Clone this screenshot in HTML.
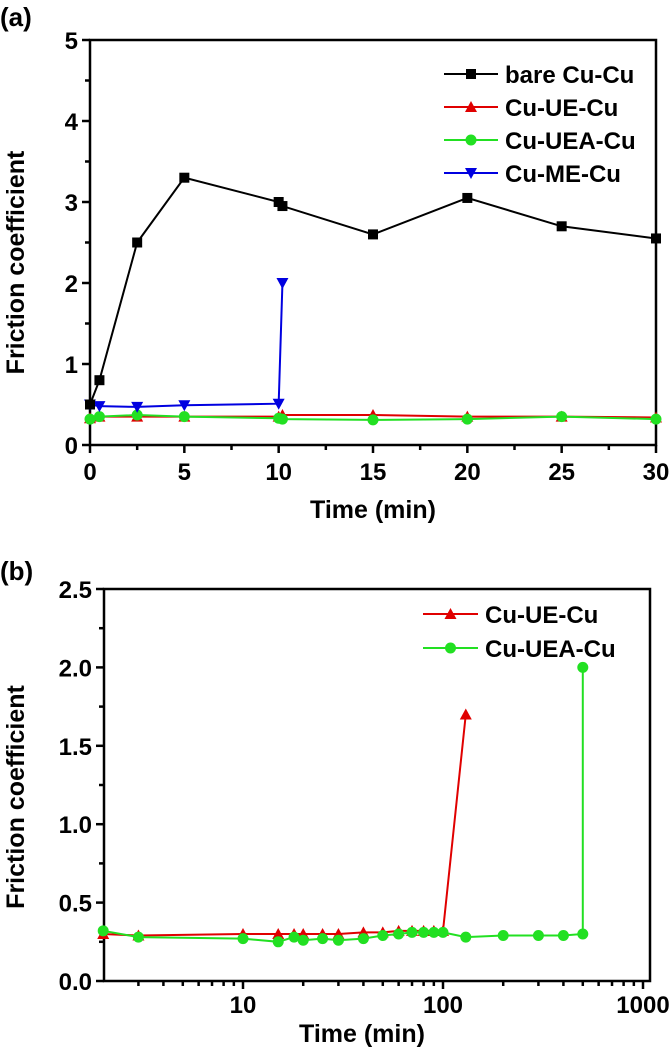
<!DOCTYPE html>
<html><head><meta charset="utf-8"><style>
body{margin:0;background:#fff;}
svg{display:block;font-family:"Liberation Sans",Arial,sans-serif;font-weight:bold;}
</style></head><body>
<svg id="fig" width="670" height="1048" viewBox="0 0 670 1048">
<text x="0" y="26" font-size="26">(a)</text>
<text x="0" y="580" font-size="26">(b)</text>
<g id="ga"></g>
<g id="gb"></g>
</svg>
<script>
// Panel (a) data
const aBareX=[0,0.5,2.5,5,10,10.2,15,20,25,30];
const aBareY=[0.5,0.8,2.5,3.3,3.0,2.95,2.6,3.05,2.7,2.55];
const aUEX=[0,0.5,2.5,5,10,10.2,15,20,25,30];
const aUEY=[0.33,0.35,0.35,0.35,0.35,0.37,0.37,0.35,0.35,0.34];
const aUEAX=[0,0.5,2.5,5,10,10.2,15,20,25,30];
const aUEAY=[0.32,0.35,0.37,0.35,0.33,0.32,0.31,0.32,0.35,0.32];
const aMEX=[0,0.5,2.5,5,10,10.2];
const aMEY=[0.5,0.48,0.47,0.49,0.51,2.0];
const aXTicks=[0,5,10,15,20,25,30];
const aYTicks=[0,1,2,3,4,5];
// Panel (b) data
const bUEX=[2,3,10,15,18,20,25,30,40,50,60,70,80,90,100,130];
const bUEY=[0.3,0.29,0.3,0.3,0.3,0.3,0.3,0.3,0.31,0.31,0.32,0.32,0.32,0.32,0.32,1.7];
const bUEAX=[2,3,10,15,18,20,25,30,40,50,60,70,80,90,100,130,200,300,400,500,500];
const bUEAY=[0.32,0.28,0.27,0.25,0.28,0.26,0.27,0.26,0.27,0.29,0.3,0.31,0.31,0.31,0.31,0.28,0.29,0.29,0.29,0.3,2.0];
const bXTicks=[10,100,1000];
const bYTicks=[0,0.5,1.0,1.5,2.0,2.5];

const NS="http://www.w3.org/2000/svg";
function mk(p,t,a){const e=document.createElementNS(NS,t);for(const k in a)e.setAttribute(k,a[k]);p.appendChild(e);return e;}

function marker(g,type,x,y,c){
  let e;
  if(type==='sq'){e=mk(g,'rect',{x:x-5,y:y-5,width:10,height:10,fill:c});}
  else if(type==='tri'){e=mk(g,'polygon',{points:`${x},${y-6} ${x-6},${y+5} ${x+6},${y+5}`,fill:c});}
  else if(type==='dtri'){e=mk(g,'polygon',{points:`${x},${y+6} ${x-6},${y-5} ${x+6},${y-5}`,fill:c});}
  else {e=mk(g,'circle',{cx:x,cy:y,r:5.5,fill:c});}
  
  
}
function series(g,xs,ys,sx,sy,c,type,name){
  const s=mk(g,'g',{});
  
  
  const pts=xs.map((x,i)=>sx(x)+','+sy(ys[i])).join(' ');
  const l=mk(s,'polyline',{points:pts,fill:'none',stroke:c,'stroke-width':2});
  
  
  xs.forEach((x,i)=>marker(s,type,sx(x),sy(ys[i]),c));
}
function legend(g,x0,x1,y,c,type,label,name){
  const lg=mk(g,'g',{});
  
  
  mk(lg,'line',{x1:x0,x2:x1,y1:y,y2:y,stroke:c,'stroke-width':2});
  marker(lg,type,(x0+x1)/2,y,c);
  const t=mk(lg,'text',{x:x1+7,y:y+9,'font-size':24});t.textContent=label;
}

// ---- Panel a
(function(){
  const g=document.getElementById('ga');
  const L=90,R=656,T=40,B=445;
  const sx=v=>L+(v-0)/30*(R-L), sy=v=>B-(v/5)*(B-T);
  const ax=mk(g,'g',{});
  
  
  for(let v=0;v<=30;v+=2.5){const x=sx(v);mk(ax,'line',{x1:x,x2:x,y1:B,y2:B+(v%5===0?8:5),stroke:'#000','stroke-width':2.5});}
  for(let v=0;v<=5;v+=0.5){const y=sy(v);mk(ax,'line',{x1:L,x2:L-(v%1===0?8:5),y1:y,y2:y,stroke:'#000','stroke-width':2.5});}
  aXTicks.forEach(v=>{const t=mk(ax,'text',{x:sx(v),y:B+35,'font-size':24,'text-anchor':'middle'});t.textContent=v;
    });
  aYTicks.forEach(v=>{const t=mk(ax,'text',{x:L-12,y:sy(v)+9,'font-size':24,'text-anchor':'end'});t.textContent=v;
    });
  const xt=mk(ax,'text',{x:373,y:518,'font-size':25,'text-anchor':'middle'});xt.textContent='Time (min)';
  
  const yt=mk(ax,'text',{x:0,y:0,'font-size':25,'text-anchor':'middle',transform:`translate(24,${(T+B)/2+20}) rotate(-90)`});yt.textContent='Friction coefficient';
  
  series(g,aUEX,aUEY,sx,sy,'#e00000','tri','series-cu-ue-cu');
  series(g,aUEAX,aUEAY,sx,sy,'#22e022','circ','series-cu-uea-cu');
  series(g,aMEX,aMEY,sx,sy,'#0000e0','dtri','series-cu-me-cu');
  series(g,aBareX,aBareY,sx,sy,'#000','sq','series-bare-cu-cu');
  const fr=mk(ax,'rect',{x:L,y:T,width:R-L,height:B-T,fill:'none',stroke:'#000','stroke-width':2.5});
  
  legend(g,444,498,74,'#000','sq','bare Cu-Cu','legend-entry-bare');
  legend(g,444,498,107,'#e00000','tri','Cu-UE-Cu','legend-entry-ue');
  legend(g,444,498,140,'#22e022','circ','Cu-UEA-Cu','legend-entry-uea');
  legend(g,444,498,173,'#0000e0','dtri','Cu-ME-Cu','legend-entry-me');
})();

// ---- Panel b
(function(){
  const g=document.getElementById('gb');
  const L=104,R=650,T=589,B=981;
  const x10=243,dec=200;
  const sx=v=>x10+(Math.log10(v)-1)*dec, sy=v=>B-(v/2.5)*(B-T);
  const ax=mk(g,'g',{});
  
  
  for(let d=1;d<=1000;d*=10){for(let m=1;m<10;m++){const v=d*m;const x=sx(v);if(x<L-0.5||x>R+0.5)continue;
    mk(ax,'line',{x1:x,x2:x,y1:B,y2:B+(m===1?8:5),stroke:'#000','stroke-width':2.5});}}
  for(let v=0;v<=2.5001;v+=0.25){const y=sy(v);const maj=Math.abs(v/0.5-Math.round(v/0.5))<1e-6;mk(ax,'line',{x1:L,x2:L-(maj?8:5),y1:y,y2:y,stroke:'#000','stroke-width':2.5});}
  bXTicks.forEach(v=>{const t=mk(ax,'text',{x:sx(v),y:B+32,'font-size':24,'text-anchor':'middle'});t.textContent=v;
    });
  bYTicks.forEach(v=>{const t=mk(ax,'text',{x:L-12,y:sy(v)+9,'font-size':24,'text-anchor':'end'});t.textContent=v.toFixed(1);
    });
  const xt=mk(ax,'text',{x:362,y:1042,'font-size':25,'text-anchor':'middle'});xt.textContent='Time (min)';
  
  const yt=mk(ax,'text',{x:0,y:0,'font-size':25,'text-anchor':'middle',transform:`translate(24,${(T+B)/2+12}) rotate(-90)`});yt.textContent='Friction coefficient';
  
  series(g,bUEX,bUEY,sx,sy,'#e00000','tri','series-cu-ue-cu');
  series(g,bUEAX,bUEAY,sx,sy,'#22e022','circ','series-cu-uea-cu');
  const fr=mk(ax,'rect',{x:L,y:T,width:R-L,height:B-T,fill:'none',stroke:'#000','stroke-width':2.5});
  
  legend(g,423,478,614,'#e00000','tri','Cu-UE-Cu','legend-entry-ue');
  legend(g,423,478,648,'#22e022','circ','Cu-UEA-Cu','legend-entry-uea');
})();
</script>
</body></html>
